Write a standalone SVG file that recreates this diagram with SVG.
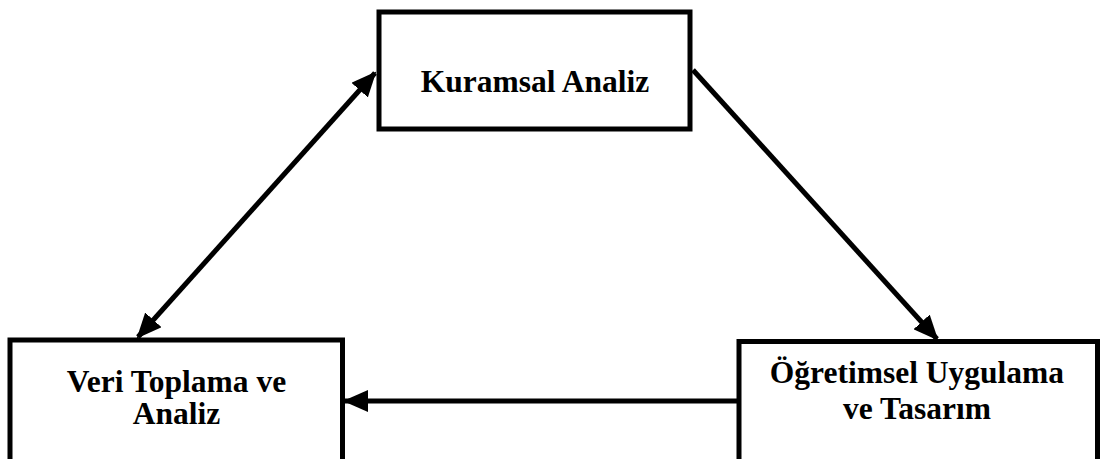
<svg xmlns="http://www.w3.org/2000/svg" width="1101" height="459" viewBox="0 0 1101 459">
  <style>
    .box { fill: #ffffff; stroke: #000000; stroke-width: 5; }
    .lbl { font-family: "Liberation Serif", "Times New Roman", serif; font-weight: bold; font-size: 31.5px; fill: #000000; text-anchor: middle; }
    .conn { stroke: #000000; stroke-width: 5; fill: none; }
  </style>
  <defs>
    <marker id="arrowEnd" markerWidth="5" markerHeight="4.4" refX="4.6" refY="2.2" orient="auto" markerUnits="strokeWidth">
      <path d="M0,0 L5,2.2 L0,4.4 Z" fill="#000000"/>
    </marker>
    <marker id="arrowStart" markerWidth="5" markerHeight="4.4" refX="0.4" refY="2.2" orient="auto" markerUnits="strokeWidth">
      <path d="M5,0 L0,2.2 L5,4.4 Z" fill="#000000"/>
    </marker>
  </defs>
  <rect width="1101" height="459" fill="#ffffff"/>
  <g id="connectors">
    <line class="conn" x1="375" y1="73" x2="138" y2="337" marker-start="url(#arrowStart)" marker-end="url(#arrowEnd)"/>
    <line class="conn" x1="693" y1="70" x2="937" y2="339" marker-end="url(#arrowEnd)"/>
    <line class="conn" x1="737" y1="401" x2="345" y2="401" marker-end="url(#arrowEnd)"/>
  </g>
  <g id="node-kuramsal">
    <rect class="box" x="379" y="12" width="311" height="117"/>
    <text class="lbl" x="535" y="92">Kuramsal Analiz</text>
  </g>
  <g id="node-veri">
    <rect class="box" x="10" y="340" width="332.5" height="140"/>
    <text class="lbl" x="176.5" y="392">Veri Toplama ve</text>
    <text class="lbl" x="176.5" y="424">Analiz</text>
  </g>
  <g id="node-ogretimsel">
    <rect class="box" x="739" y="341.5" width="358.5" height="140"/>
    <text class="lbl" x="917" y="383">Öğretimsel Uygulama</text>
    <text class="lbl" x="917" y="419">ve Tasarım</text>
  </g>
</svg>
